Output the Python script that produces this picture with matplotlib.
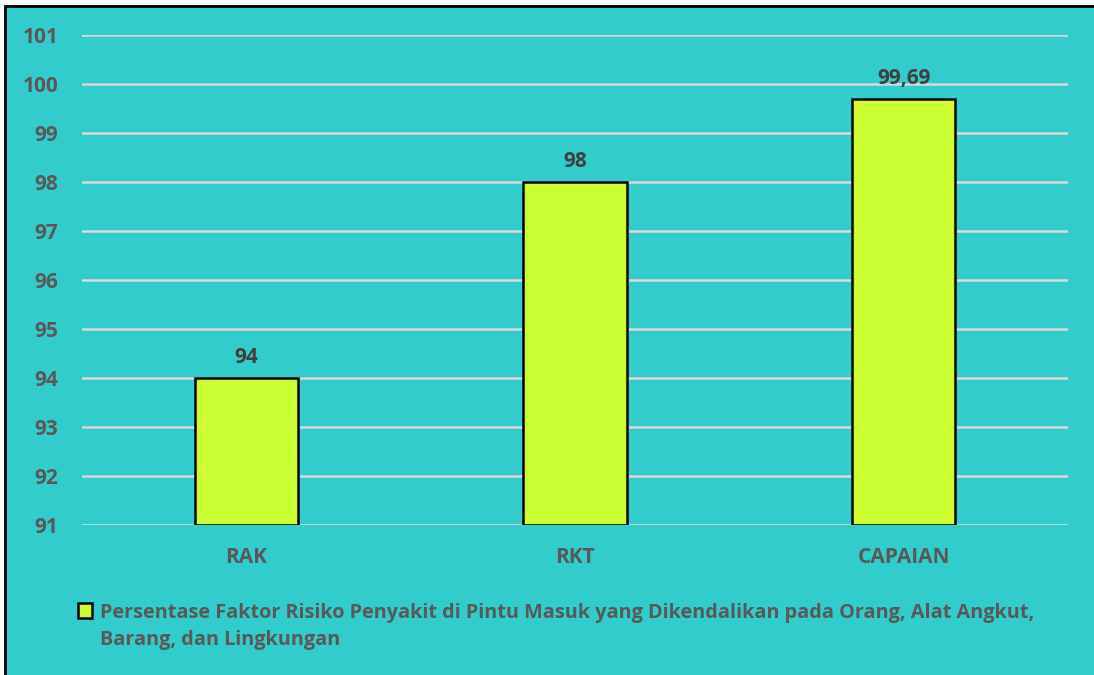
import matplotlib
matplotlib.use("Agg")
import matplotlib.pyplot as plt
from matplotlib.patches import Rectangle

categories = ["RAK", "RKT", "CAPAIAN"]
values = [94, 98, 99.69]
value_labels = ["94", "98", "99,69"]
yticks = [91, 92, 93, 94, 95, 96, 97, 98, 99, 100, 101]
legend_lines = ["Persentase Faktor Risiko Penyakit di Pintu Masuk yang Dikendalikan pada Orang, Alat Angkut,",
                "Barang, dan Lingkungan"]

BG = "#33CCCC"
BAR = "#CCFF33"
TXT = "#595959"
LBL = "#404040"
FONT = "Open Sans"

W, H = 1094, 675
fig = plt.figure(figsize=(W / 100, H / 100), dpi=100)
fig.patch.set_facecolor("white")

# chart background with border
bg = Rectangle((5 / W, -0.1), 1.2, 1.1 - 6 / H, transform=fig.transFigure,
               facecolor=BG, edgecolor="black", linewidth=2, zorder=-10)
fig.add_artist(bg)

ax = fig.add_axes([82 / W, 1 - 525 / H, (1068 - 82) / W, (525 - 35) / H])
ax.set_zorder(1)
ax.set_facecolor("none")
x = list(range(len(categories)))
ax.bar(x, [v - 91 for v in values], bottom=91, width=0.315, color=BAR,
       edgecolor="black", linewidth=1.8, zorder=3)
ax.set_xlim(-0.5, 2.5)
ax.set_ylim(91, 101)
ax.set_yticks(yticks)
ax.set_yticklabels([str(t) for t in yticks], fontsize=15, fontweight="bold",
                   color=TXT, family=FONT)
ax.set_xticks(x)
ax.set_xticklabels(categories, fontsize=15, fontweight="bold", color=TXT, family=FONT)
ax.tick_params(axis="both", length=0)
ax.tick_params(axis="y", pad=17)
ax.tick_params(axis="x", pad=16)
ax.yaxis.grid(True, color="#D9D9D9", linewidth=1.8, zorder=1)
for s in ax.spines.values():
    s.set_visible(False)

for xi, v, lab in zip(x, values, value_labels):
    ax.annotate(lab, (xi, v), xytext=(0, 15), textcoords="offset points",
                ha="center", va="center", fontsize=15, fontweight="bold",
                color=LBL, family=FONT, zorder=4)

# legend
fig.add_artist(Rectangle((78 / W, 1 - 618 / H), 14 / W, 15 / H, transform=fig.transFigure,
                         facecolor=BAR, edgecolor="black", linewidth=1.8, zorder=5))
for i, line in enumerate(legend_lines):
    fig.text(100 / W, 1 - (618 + 27 * i) / H, line, ha="left", va="baseline",
             fontsize=14.3, fontweight="bold", color=TXT, family=FONT)

fig.savefig("out.png", dpi=100)
